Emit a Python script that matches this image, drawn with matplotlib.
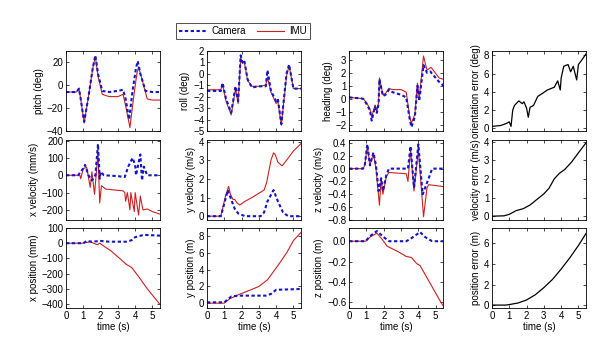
import matplotlib
matplotlib.use('Agg')
import matplotlib.pyplot as plt

plt.rcParams['font.family'] = ['Liberation Sans', 'DejaVu Sans']
plt.rcParams['font.size'] = 7

# --- orientation ---
pitch_cam_t = [0, 0.6, 0.75, 0.85, 1.05, 1.3, 1.55, 1.7, 1.85, 2.1, 2.5, 3.0, 3.3, 3.45, 3.65, 3.85, 4.05, 4.15, 4.3, 4.6, 5.0, 5.45]
pitch_cam = [-6, -6, -3, -12, -32, -10, 15, 26, 10, -5, -6, -5, -4, -12, -30, -5, 15, 21, 10, -5, -6, -6]
pitch_imu_t = [0, 0.6, 0.75, 0.85, 1.05, 1.3, 1.55, 1.7, 1.85, 2.1, 2.5, 3.0, 3.3, 3.45, 3.7, 3.9, 4.1, 4.2, 4.4, 4.7, 5.0, 5.45]
pitch_imu = [-6, -6, -3, -12, -33, -10, 15, 25, 8, -8, -10, -10, -8, -18, -37, -12, 10, 16, 5, -12, -13, -13]

roll_t = [0, 0.8, 0.9, 1.1, 1.4, 1.65, 1.8, 1.95, 2.05, 2.15, 2.35, 2.6, 3.0, 3.4, 3.5, 3.7, 4.0, 4.1, 4.3, 4.6, 4.75, 5.0, 5.45]
roll_cam = [-1.5, -1.5, -0.8, -2.2, -3.4, -1.1, -2.4, 1.6, 1.0, 1.2, -0.5, -1.2, -1.1, -1.1, 0.3, -1.5, -2.4, -2.2, -4.4, 0.0, 0.8, -1.3, -1.3]
roll_imu = [-1.4, -1.4, -0.9, -2.4, -3.6, -1.3, -2.6, 1.4, 0.9, 1.1, -0.6, -1.1, -1.1, -1.0, -0.3, -1.6, -2.6, -2.4, -4.5, -0.2, 0.7, -1.3, -1.3]

head_t = [0, 0.8, 1.0, 1.2, 1.3, 1.5, 1.6, 1.7, 1.75, 1.95, 2.1, 2.3, 2.5, 3.0, 3.3, 3.5, 3.6, 3.8, 3.95, 4.05, 4.3, 4.5, 4.7, 4.75, 5.2, 5.45]
head_cam = [0.1, 0.0, -0.4, -0.9, -1.7, -0.6, -1.1, -0.4, 1.5, 0.2, 0.3, 0.7, 0.5, 0.3, 0.1, -1.6, -2.2, -1.4, 1.0, -0.2, 2.6, 2.0, 2.1, 2.0, 1.3, 1.0]
head_imu = [0.1, 0.0, -0.3, -0.8, -1.4, -0.5, -1.0, -0.3, 1.6, 0.3, 0.4, 0.8, 0.7, 0.7, 0.5, -1.4, -1.9, -1.2, 1.2, 0.0, 3.3, 2.2, 2.4, 2.4, 1.6, 1.5]

ori_err_t = [0, 0.5, 0.8, 1.0, 1.1, 1.2, 1.3, 1.55, 1.75, 1.85, 2.0, 2.1, 2.2, 2.4, 2.65, 2.9, 3.2, 3.6, 3.8, 3.95, 4.0, 4.15, 4.4, 4.55, 4.7, 4.9, 5.0, 5.2, 5.45]
ori_err = [0.2, 0.3, 0.5, 0.7, 0.2, 2.0, 2.5, 3.0, 2.7, 2.9, 2.2, 1.2, 2.3, 2.5, 3.5, 3.8, 4.2, 4.5, 5.2, 4.2, 5.5, 6.8, 7.0, 6.2, 6.8, 5.3, 7.0, 7.5, 8.2]

# --- velocity ---
vx_cam_t = [0, 0.7, 1.0, 1.1, 1.3, 1.5, 1.7, 1.85, 1.95, 2.0, 2.2, 3.0, 3.4, 3.5, 3.6, 3.85, 4.0, 4.05, 4.3, 4.4, 4.5, 4.7, 5.45]
vx_cam = [0, 0, 40, 60, 0, -30, 0, 180, -20, 20, 0, -5, -10, 20, 50, 100, 60, 0, 120, -30, 50, 0, 0]
vx_imu_t = [0, 0.8, 0.85, 1.0, 1.2, 1.4, 1.5, 1.65, 1.85, 1.95, 2.05, 2.3, 3.3, 3.4, 3.45, 3.55, 3.7, 3.75, 3.95, 4.0, 4.2, 4.3, 4.45, 4.7, 5.0, 5.45]
vx_imu = [0, 0, -20, 40, 45, -70, 20, -110, 130, -160, -60, -80, -90, -100, -150, -100, -200, -100, -210, -100, -230, -120, -200, -195, -210, -225]

vy_cam_t = [0, 0.8, 0.95, 1.2, 1.4, 1.6, 1.8, 2.2, 3.1, 3.3, 3.5, 3.85, 4.1, 4.4, 4.7, 5.45]
vy_cam = [0, 0, 0.5, 1.4, 0.9, 0.4, 0.15, 0, 0, 0.2, 0.8, 1.4, 0.8, 0.2, 0, 0]
vy_imu_t = [0, 0.8, 1.05, 1.25, 1.35, 1.5, 1.6, 1.75, 1.9, 2.2, 2.6, 3.3, 3.45, 3.7, 3.85, 3.95, 4.1, 4.35, 4.6, 5.0, 5.45]
vy_imu = [0, 0, 1.0, 1.6, 1.2, 0.9, 0.9, 0.7, 0.6, 0.8, 1.0, 1.4, 1.8, 3.0, 3.4, 3.3, 2.9, 2.7, 3.0, 3.5, 3.9]

vz_cam_t = [0, 0.8, 0.9, 1.05, 1.2, 1.4, 1.55, 1.7, 1.85, 1.95, 2.15, 2.3, 3.4, 3.55, 3.75, 4.0, 4.25, 4.6, 4.8, 5.45]
vz_cam = [0, 0, 0.05, 0.38, 0.05, 0.25, 0.05, -0.35, -0.15, -0.35, -0.1, 0, 0, 0.35, -0.3, 0.38, -0.4, -0.15, 0, 0]
vz_imu_t = [0, 0.8, 0.9, 1.05, 1.2, 1.4, 1.55, 1.75, 1.85, 1.95, 2.15, 2.3, 3.3, 3.4, 3.55, 3.75, 4.0, 4.3, 4.5, 4.6, 5.45]
vz_imu = [0, 0, 0.05, 0.36, 0.05, 0.24, 0.0, -0.57, -0.15, -0.4, -0.12, -0.06, -0.08, -0.2, 0.3, -0.35, 0.3, -0.75, -0.3, -0.25, -0.28]

vel_err_t = [0, 0.7, 1.0, 1.4, 1.8, 2.2, 2.6, 3.0, 3.3, 3.6, 3.9, 4.2, 4.6, 5.0, 5.45]
vel_err = [0, 0.02, 0.1, 0.3, 0.4, 0.6, 0.9, 1.2, 1.5, 2.0, 2.3, 2.5, 2.9, 3.4, 3.95]

# --- position ---
px_cam_t = [0, 1.0, 1.2, 1.5, 2.0, 2.5, 3.5, 3.8, 4.0, 4.5, 5.45]
px_cam = [0, 0, 15, 10, 15, 10, 10, 20, 40, 55, 50]
px_imu_t = [0, 1.0, 1.4, 1.8, 1.95, 2.2, 2.6, 3.0, 3.5, 3.8, 4.2, 4.7, 5.45]
px_imu = [0, 0, 10, -10, 0, -20, -50, -90, -140, -160, -220, -300, -405]

py_cam_t = [0, 1.0, 1.4, 1.8, 3.4, 3.7, 4.0, 5.45]
py_cam = [0.1, 0.1, 0.8, 0.9, 0.9, 1.1, 1.6, 1.7]
py_imu_t = [0, 1.0, 1.3, 1.8, 2.3, 3.0, 3.5, 4.1, 4.6, 5.0, 5.45]
py_imu = [0, 0, 0.5, 1.0, 1.4, 2.0, 2.8, 4.5, 6.0, 7.5, 8.5]

pz_cam_t = [0, 0.95, 1.2, 1.6, 2.0, 2.3, 3.3, 3.6, 4.1, 4.4, 4.8, 5.45]
pz_cam = [0, 0, 0.05, 0.1, 0.04, 0, 0, 0.03, 0.09, 0.04, 0, 0]
pz_imu_t = [0, 0.95, 1.2, 1.6, 1.9, 2.2, 2.8, 3.3, 3.6, 3.9, 4.1, 4.4, 4.8, 5.3, 5.45]
pz_imu = [0, 0, 0.04, 0.08, 0.02, -0.05, -0.1, -0.15, -0.16, -0.22, -0.24, -0.33, -0.45, -0.6, -0.64]

pos_err_t = [0, 0.8, 1.0, 1.5, 2.0, 2.5, 3.0, 3.5, 4.0, 4.5, 5.0, 5.45]
pos_err = [0, 0, 0.05, 0.2, 0.5, 1.0, 1.7, 2.5, 3.5, 4.6, 5.8, 7.0]

cam_style = dict(color='#1414c8', lw=1.5, ls=(0, (1.6, 1.2)))
imu_style = dict(color='#cc2020', lw=0.8)
err_style = dict(color='black', lw=0.9)

fig = plt.figure(figsize=(6, 3.53), dpi=100)
lefts = [0.110, 0.345, 0.582, 0.820]
bottoms = [0.629, 0.377, 0.127]
w, h = 0.157, 0.227

def make_ax(r, c):
    ax = fig.add_axes([lefts[c], bottoms[r], w, h])
    ax.tick_params(direction='in', top=True, right=True, length=2.5, width=0.5, pad=2, labelsize=7)
    for s in ax.spines.values():
        s.set_linewidth(0.6)
    ax.set_xlim(0, 5.45)
    ax.set_xticks([0, 1, 2, 3, 4, 5])
    if r < 2:
        ax.set_xticklabels([])
    else:
        ax.set_xlabel('time (s)', labelpad=1)
    return ax

pairs = [
    (0, 0, pitch_cam_t, pitch_cam, pitch_imu_t, pitch_imu, 'pitch (deg)', (-40, 30), [-40, -20, 0, 20]),
    (0, 1, roll_t, roll_cam, roll_t, roll_imu, 'roll (deg)', (-5, 2), [-5, -4, -3, -2, -1, 0, 1, 2]),
    (0, 2, head_t, head_cam, head_t, head_imu, 'heading (deg)', (-2.5, 3.7), [-2, -1, 0, 1, 2, 3]),
    (1, 0, vx_cam_t, vx_cam, vx_imu_t, vx_imu, 'x velocity (mm/s)', (-258, 205), [-200, -100, 0, 100, 200]),
    (1, 1, vy_cam_t, vy_cam, vy_imu_t, vy_imu, 'y velocity (m/s)', (-0.2, 4.1), [0, 1, 2, 3, 4]),
    (1, 2, vz_cam_t, vz_cam, vz_imu_t, vz_imu, 'z velocity (m/s)', (-0.8, 0.45), [-0.8, -0.6, -0.4, -0.2, 0, 0.2, 0.4]),
    (2, 0, px_cam_t, px_cam, px_imu_t, px_imu, 'x position (mm)', (-428, 100), [-400, -300, -200, -100, 0, 100]),
    (2, 1, py_cam_t, py_cam, py_imu_t, py_imu, 'y position (m)', (-0.6, 9), [0, 2, 4, 6, 8]),
    (2, 2, pz_cam_t, pz_cam, pz_imu_t, pz_imu, 'z position (m)', (-0.66, 0.13), [-0.6, -0.4, -0.2, 0]),
]

for r, c, tc, yc, ti, yi, lab, lim, ticks in pairs:
    ax = make_ax(r, c)
    ax.plot(ti, yi, label='IMU', **imu_style)
    ax.plot(tc, yc, label='Camera', **cam_style)
    ax.set_ylim(*lim)
    ax.set_yticks(ticks)
    ax.set_ylabel(lab, labelpad=2)
    if r == 0 and c == 0:
        h_imu, h_cam = ax.get_lines()

errors = [
    (0, ori_err_t, ori_err, 'orientation error (deg)', (-0.3, 8.5), [0, 2, 4, 6, 8]),
    (1, vel_err_t, vel_err, 'velocity error (m/s)', (-0.2, 4.1), [0, 1, 2, 3, 4]),
    (2, pos_err_t, pos_err, 'position error (m)', (-0.3, 7.5), [0, 2, 4, 6]),
]
for r, te, ye, lab, lim, ticks in errors:
    ax = make_ax(r, 3)
    ax.plot(te, ye, **err_style)
    ax.set_ylim(*lim)
    ax.set_yticks(ticks)
    ax.set_ylabel(lab, labelpad=2)

leg = fig.legend([h_cam, h_imu], ['Camera', 'IMU'], loc='center', bbox_to_anchor=(0.405, 0.912),
                 ncol=2, frameon=True, fancybox=False, edgecolor='black', fontsize=7,
                 handlelength=2.8, columnspacing=1.2, borderpad=0.3, handletextpad=0.5)
leg.get_frame().set_linewidth(0.6)

fig.savefig('out.png', dpi=100)
